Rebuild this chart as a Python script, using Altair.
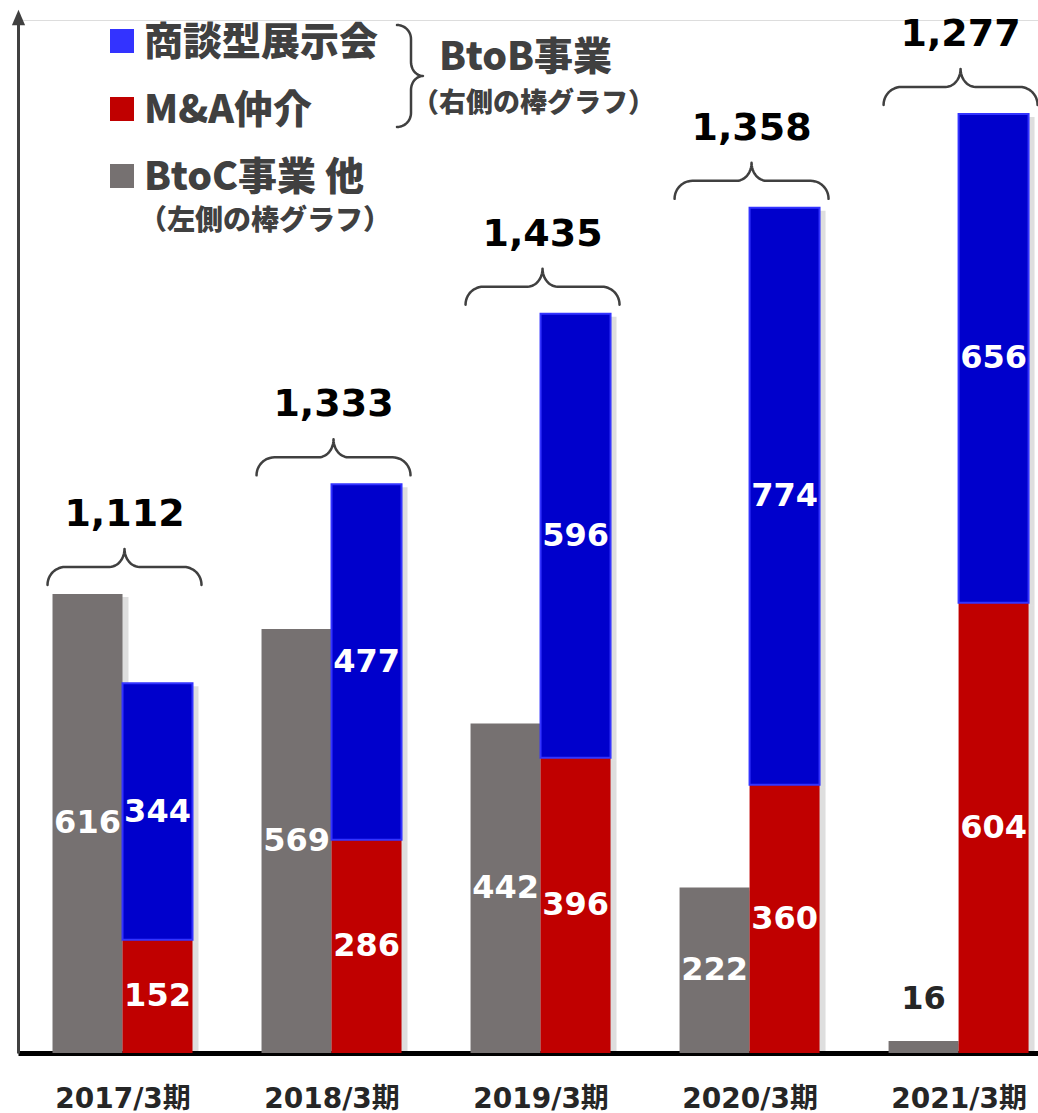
import math
import altair as alt
import pandas as pd

# ---------------- data ----------------
periods = ["2017/3期", "2018/3期", "2019/3期", "2020/3期", "2021/3期"]
btoc = [616, 569, 442, 222, 16]          # BtoC事業 他 (left bar)
ma = [152, 286, 396, 360, 604]           # M&A仲介 (right bar, bottom)
expo = [344, 477, 596, 774, 656]         # 商談型展示会 (right bar, top)
totals = [1112, 1333, 1435, 1358, 1277]

legend_labels = ["商談型展示会", "M&A仲介", "BtoC事業 他"]
legend_colors = ["#3333FF", "#C00000", "#767171"]
left_note = "（左側の棒グラフ）"
btob_title = "BtoB事業"
right_note = "（右側の棒グラフ）"

# ---------------- style / layout ----------------
GRAY, RED, BLUE, BLUE_EDGE = "#767171", "#C00000", "#0000CC", "#3333FF"
DARK = "#404040"
NUM_FONT = "DejaVu Sans"
JP_FONT = "Noto Sans CJK JP"
PAD_L, PAD_T, W, H = 18, 20, 1020, 1033
X_MIN, X_MAX, Y_MAX = -0.5, 4.38, 1386
PPX = W / (X_MAX - X_MIN)
PPY = H / Y_MAX
BW = 70 / PPX

xs = alt.Scale(domain=[X_MIN, X_MAX], nice=False, zero=False)
ys = alt.Scale(domain=[0, Y_MAX], nice=False)

# ---------------- tables ----------------
bars = []
for i in range(len(periods)):
    bars.append(dict(x0=i - BW, x1=i, y0=0, y1=btoc[i], s="BtoC"))
    bars.append(dict(x0=i, x1=i + BW, y0=0, y1=ma[i], s="MA"))
bars_df = pd.DataFrame(bars)
blue_df = pd.DataFrame([dict(x0=i, x1=i + BW, y0=ma[i], y1=ma[i] + expo[i])
                        for i in range(len(periods))])
all_df = pd.concat([bars_df, blue_df.assign(s="EXPO")], ignore_index=True)

labels = []
for i in range(len(periods)):
    if btoc[i] >= 50:
        labels.append(dict(x=i - BW / 2, y=btoc[i] / 2, t=str(btoc[i]), c="white"))
    else:
        labels.append(dict(x=i - BW / 2, y=btoc[i] + 42 / PPY, t=str(btoc[i]), c="#262626"))
    labels.append(dict(x=i + BW / 2, y=ma[i] / 2, t=str(ma[i]), c="white"))
    labels.append(dict(x=i + BW / 2, y=ma[i] + expo[i] / 2, t=str(expo[i]), c="white"))
labels_df = pd.DataFrame(labels)

tops = [max(btoc[i], ma[i] + expo[i]) for i in range(len(periods))]
tot_df = pd.DataFrame([dict(x=i + 2 / PPX, y=tops[i] + 79 / PPY, t=f"{totals[i]:,}")
                       for i in range(len(periods))])


def brace_uv(L, h1, rx, th, tx, n=12):
    pts = []
    for k in range(n + 1):
        t = (math.pi / 2) * k / n
        pts.append((rx - rx * math.cos(t), h1 * math.sin(t)))
    cx = L / 2 - tx
    for k in range(n + 1):
        t = (math.pi / 2) * k / n
        pts.append((cx + tx * math.sin(t), h1 + th * (1 - math.cos(t))))
    right = [(L - u, v) for (u, v) in reversed(pts)]
    return pts + right


brace_rows = []
for i in range(len(periods)):
    left = i - BW - 5 / PPX
    for k, (u, v) in enumerate(brace_uv(154, 18, 18, 18, 15)):
        brace_rows.append(dict(b=f"g{i}", k=k, x=left + u / PPX, y=tops[i] + (9 + v) / PPY))
# legend brace (vertical, tip to the right)
for k, (u, v) in enumerate(brace_uv(102, 14, 14, 12, 14)):
    px, py = 397 + v, 25 + u
    brace_rows.append(dict(b="legend", k=k, x=X_MIN + (px - PAD_L) / PPX, y=(PAD_T + H - py) / PPY))
brace_df = pd.DataFrame(brace_rows)

# ---------------- layers ----------------
label_expr = "[" + ",".join(f"'{p}'" for p in periods) + "][datum.value]"

base_x = alt.X("x0:Q", scale=xs,
               axis=alt.Axis(values=list(range(len(periods))), labelExpr=label_expr,
                             title=None, grid=False, ticks=False, tickSize=0,
                             domainColor="black", domainWidth=5,
                             labelFont=f"{NUM_FONT}, {JP_FONT}", labelFontSize=28,
                             labelFontWeight="bold", labelColor="#262626",
                             labelPadding=32, labelFlush=False))
base_y = alt.Y("y1:Q", scale=ys,
               axis=alt.Axis(title=None, grid=False, ticks=False, labels=False,
                             domainColor=DARK, domainWidth=3))

shadow = alt.Chart(all_df).mark_rect(color="#000000", opacity=0.13, xOffset=3, x2Offset=6,
                                     yOffset=3, y2Offset=3).encode(
    x=base_x, x2="x1:Q", y=base_y, y2="y0:Q")

main_bars = alt.Chart(bars_df).mark_rect().encode(
    x=base_x, x2="x1:Q", y=base_y, y2="y0:Q",
    color=alt.Color("s:N", scale=alt.Scale(domain=["BtoC", "MA"], range=[GRAY, RED]), legend=None))

blue_bars = alt.Chart(blue_df).mark_rect(color=BLUE, stroke=BLUE_EDGE, strokeWidth=2).encode(
    x=base_x, x2="x1:Q", y=base_y, y2="y0:Q")

val_text = alt.Chart(labels_df).mark_text(font=NUM_FONT, fontSize=32, fontWeight="bold",
                                          baseline="middle", align="center").encode(
    x=alt.X("x:Q", scale=xs), y=alt.Y("y:Q", scale=ys), text="t:N",
    color=alt.Color("c:N", scale=None))

tot_text = alt.Chart(tot_df).mark_text(font=NUM_FONT, fontSize=38, fontWeight="bold",
                                       baseline="middle", align="center", color="black").encode(
    x=alt.X("x:Q", scale=xs), y=alt.Y("y:Q", scale=ys), text="t:N")

braces = alt.Chart(brace_df).mark_line(color=DARK, strokeWidth=2.5, strokeJoin="round",
                                       strokeCap="round").encode(
    x=alt.X("x:Q", scale=xs), y=alt.Y("y:Q", scale=ys),
    detail="b:N", order="k:Q")

arrow = alt.Chart(pd.DataFrame({"a": [0]})).mark_point(
    shape="M0,-1L0.85,1L-0.85,1Z", size=240, filled=True, color=DARK, opacity=1,
    strokeWidth=0).encode(
    x=alt.value(0.5), y=alt.value(-2.5))

legend_layers = []
for j, (lab, col) in enumerate(zip(legend_labels, legend_colors)):
    cy = [41, 109, 176][j]
    legend_layers.append(
        alt.Chart(pd.DataFrame({"t": [lab]})).mark_point(
            shape="square", size=576, filled=True, color=col, opacity=1).encode(
            x=alt.value(122 - PAD_L), y=alt.value(cy - PAD_T)))
    legend_layers.append(
        alt.Chart(pd.DataFrame({"t": [lab]})).mark_text(
            font=JP_FONT, fontSize=39, fontWeight=900, color=DARK,
            align="left", baseline="middle").encode(
            x=alt.value(144 - PAD_L), y=alt.value(cy + 2 - PAD_T), text="t:N"))

for txt, px, py, fs in [(left_note, 139, 222, 28), (btob_title, 439, 58, 39), (right_note, 412, 104, 27)]:
    legend_layers.append(
        alt.Chart(pd.DataFrame({"t": [txt]})).mark_text(
            font=JP_FONT, fontSize=fs, fontWeight=900, color=DARK,
            align="left", baseline="middle").encode(
            x=alt.value(px - PAD_L), y=alt.value(py - PAD_T), text="t:N"))

chart = alt.layer(shadow, main_bars, blue_bars, braces, val_text, tot_text, arrow,
                  *legend_layers).properties(
    width=W, height=H,
    padding={"left": PAD_L, "top": PAD_T, "right": 0, "bottom": 1113 - PAD_T - H},
    autosize=alt.AutoSizeParams(type="none"),
).configure_view(stroke=None).configure(background="white")

chart.save("out.html", embed_options={"renderer": "svg", "actions": False})
